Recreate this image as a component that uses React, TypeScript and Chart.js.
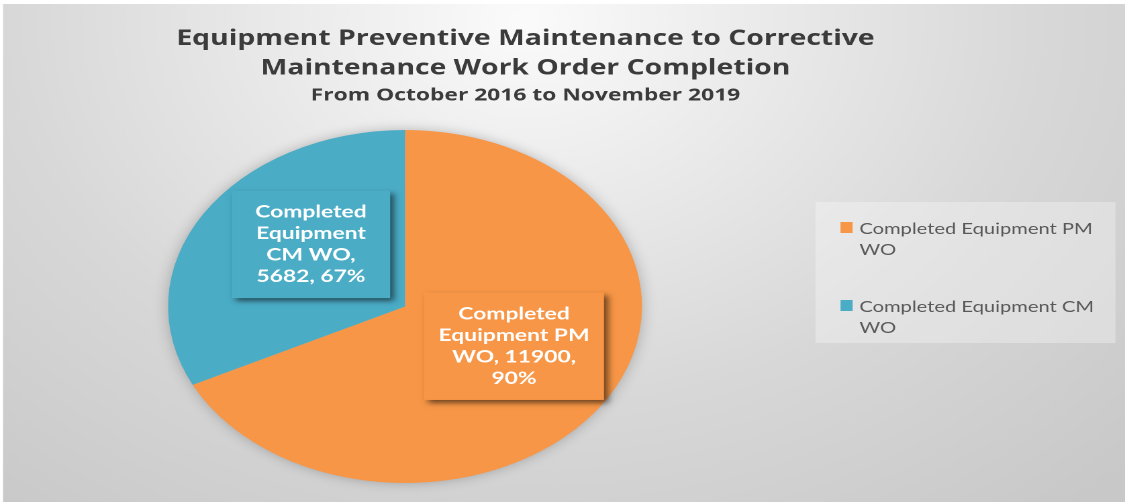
import React, { useEffect, useRef } from 'react';
import { Chart, registerables, layouts } from 'chart.js';

Chart.register(...registerables);

// ---- data ----
const categories = ['Completed Equipment PM WO', 'Completed Equipment CM WO'];
const values = [11900, 5682];
const percentLabels = ['90%', '67%'];
const colors = ['#F79646', '#4BACC6'];
const titleLines = ['Equipment Preventive Maintenance to Corrective', 'Maintenance Work Order Completion'];
const subtitleText = 'From October 2016 to November 2019';

// ---- geometry / style ----
const STRETCH = 1.3425; // the reference picture is stretched horizontally
const W = 838;
const H = 502;
const labelAnchors = [
  [0.46, 0.225],
  [-0.397, -0.352],
];
const labelWrap = [116, 100];

function wrapText(ctx: CanvasRenderingContext2D, text: string, maxW: number): string[] {
  const words = text.split(' ');
  const lines: string[] = [];
  let cur = '';
  for (const w of words) {
    const t = cur ? cur + ' ' + w : w;
    if (cur && ctx.measureText(t).width > maxW) {
      lines.push(cur);
      cur = w;
    } else {
      cur = t;
    }
  }
  if (cur) lines.push(cur);
  return lines;
}

export default function App() {
  const ref = useRef<HTMLCanvasElement>(null);

  useEffect(() => {
    const canvas = ref.current;
    if (!canvas) return;

    const sideBox: any = {
      position: 'right',
      weight: 0,
      fullSize: false,
      options: {},
      left: 0, top: 0, right: 0, bottom: 0, width: 0, height: 0,
      isHorizontal() { return false; },
      update(maxWidth: number, maxHeight: number) {
        this.width = 179.4;
        this.height = maxHeight;
        return this.width;
      },
      draw() {},
    };

    const layoutPlugin = {
      id: 'sideBox',
      beforeInit(chart: any) {
        layouts.addBox(chart, sideBox);
      },
    };

    const bgPlugin = {
      id: 'bg',
      beforeDraw(chart: any) {
        const ctx = chart.ctx as CanvasRenderingContext2D;
        ctx.save();
        const g = ctx.createRadialGradient(391, 20, 0, 391, 20, 640);
        g.addColorStop(0, '#fbfbfb');
        g.addColorStop(0.15, '#f2f2f2');
        g.addColorStop(0.6, '#d8d8d8');
        g.addColorStop(1, '#c8c8c8');
        ctx.fillStyle = g;
        ctx.fillRect(2.2, 4, W, H);
        ctx.restore();
      },
    };

    const shadowPlugin = {
      id: 'pieShadow',
      beforeDatasetsDraw(chart: any) {
        const ctx = chart.ctx as CanvasRenderingContext2D;
        const dpr = chart.currentDevicePixelRatio || 1;
        const arc = chart.getDatasetMeta(0).data[0];
        if (!arc) return;
        const { x, y, outerRadius } = arc.getProps(['x', 'y', 'outerRadius'], true);
        ctx.save();
        ctx.shadowColor = 'rgba(0,0,0,0.28)';
        ctx.shadowBlur = 12 * dpr;
        ctx.fillStyle = '#bbbbbb';
        ctx.beginPath();
        ctx.arc(x, y, outerRadius - 1, 0, Math.PI * 2);
        ctx.fill();
        ctx.restore();
      },
    };

    const labelPlugin = {
      id: 'boxLabels',
      afterDatasetsDraw(chart: any) {
        const ctx = chart.ctx as CanvasRenderingContext2D;
        const dpr = chart.currentDevicePixelRatio || 1;
        const meta = chart.getDatasetMeta(0);
        const total = values.reduce((a, b) => a + b, 0);
        meta.data.forEach((arc: any, i: number) => {
          if (!total) return;
          const { x, y, outerRadius } = arc.getProps(['x', 'y', 'outerRadius'], true);
          const cx = x + labelAnchors[i][0] * outerRadius;
          const cy = y + labelAnchors[i][1] * outerRadius;
          ctx.save();
          ctx.font = 'bold 17px Lato';
          const lines = wrapText(ctx, `${categories[i]}, ${values[i]}, ${percentLabels[i]}`, labelWrap[i]);
          const lh = 21.5;
          const bw = labelWrap[i] + 18;
          const bh = (lines.length - 1) * lh + 43;
          ctx.shadowColor = 'rgba(0,0,0,0.55)';
          ctx.shadowBlur = 5 * dpr;
          ctx.shadowOffsetX = 3 * dpr;
          ctx.shadowOffsetY = 3 * dpr;
          ctx.fillStyle = colors[i];
          ctx.fillRect(cx - bw / 2, cy - bh / 2, bw, bh);
          ctx.shadowColor = 'transparent';
          ctx.fillStyle = '#ffffff';
          ctx.textAlign = 'center';
          ctx.textBaseline = 'middle';
          const y0 = cy - ((lines.length - 1) * lh) / 2;
          lines.forEach((ln, k) => ctx.fillText(ln, cx, y0 + k * lh));
          ctx.restore();
        });
      },
    };

    const legendPlugin = {
      id: 'boxLegend',
      afterDraw(chart: any) {
        const ctx = chart.ctx as CanvasRenderingContext2D;
        const top = chart.chartArea.top;
        const fx = sideBox.left + 6;
        const fy = top + 72;
        ctx.save();
        ctx.fillStyle = 'rgba(255,255,255,0.3)';
        ctx.fillRect(fx, fy, 223.5, 141);
        ctx.font = '15px Lato';
        ctx.textBaseline = 'middle';
        ctx.textAlign = 'left';
        categories.forEach((cat, i) => {
          const rowY = fy + 27 + i * 78;
          ctx.fillStyle = colors[i];
          ctx.fillRect(fx + 18.7, rowY - 7, 9, 11);
          ctx.fillStyle = '#595959';
          const lines = wrapText(ctx, cat, 180);
          lines.forEach((ln, k) => ctx.fillText(ln, fx + 32.7, rowY + k * 21));
        });
        ctx.restore();
      },
    };

    const chart = new Chart(canvas, {
      type: 'pie',
      data: {
        labels: categories,
        datasets: [
          {
            data: values,
            backgroundColor: colors,
            borderWidth: 0,
          },
        ],
      },
      options: {
        responsive: false,
        animation: false,
        devicePixelRatio: 2,
        layout: { padding: { left: 2, right: 57.2, top: 4, bottom: 19 } },
        plugins: {
          legend: { display: false },
          tooltip: { enabled: false },
          title: {
            display: true,
            text: titleLines,
            color: '#3b3b3b',
            font: { family: '"Open Sans"', size: 21.1, weight: 'bold', lineHeight: '29.5px' },
            padding: { top: 20, bottom: 0 },
          },
          subtitle: {
            display: true,
            text: subtitleText,
            color: '#3b3b3b',
            font: { family: '"Open Sans"', size: 17, weight: 'bold', lineHeight: '20px' },
            padding: { top: 2.5, bottom: 24.5 },
          },
        },
      },
      plugins: [layoutPlugin, bgPlugin, shadowPlugin, labelPlugin, legendPlugin],
    } as any);

    return () => {
      chart.destroy();
    };
  }, []);

  return (
    <div
      style={{
        position: 'absolute',
        left: 0,
        top: 0,
        width: W,
        height: H,
        transform: `scaleX(${STRETCH})`,
        transformOrigin: '0 0',
      }}
    >
      <canvas ref={ref} width={W} height={H} />
    </div>
  );
}
